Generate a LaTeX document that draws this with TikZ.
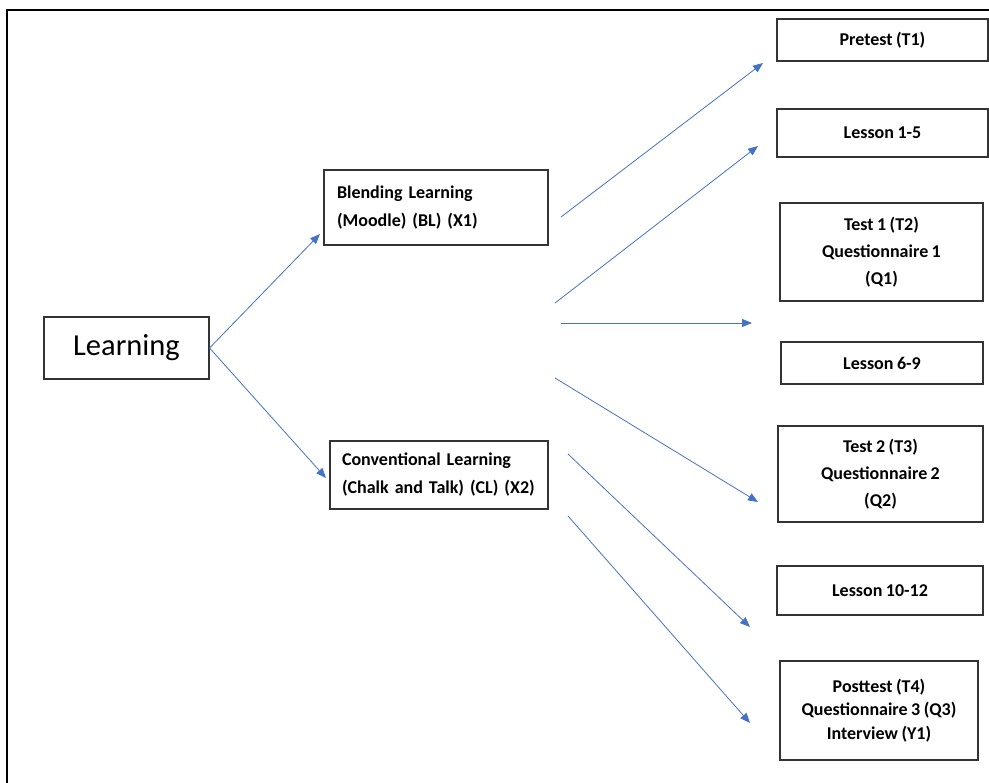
\documentclass[tikz,border=0pt]{standalone}
\usepackage{fontspec}
\setmainfont{Carlito}[WordSpace=0.85]
\usetikzlibrary{arrows.meta}
\definecolor{arrowblue}{HTML}{4472C4}
\begin{document}
\begin{tikzpicture}[x=1pt,y=-1pt,
        box/.style={draw=black!80,line width=1.1pt,inner sep=0pt,align=center,font=\bfseries\fontsize{18}{23.5}\selectfont},
        tallbox/.style={box,font=\bfseries\fontsize{18}{27}\selectfont},
        widebox/.style={box,align=left,font=\bfseries\fontsize{18}{28}\selectfont},
        link/.style={color=arrowblue,line width=0.8pt,-{Triangle[length=10pt,width=8pt]}}]
        \useasboundingbox (0,0) rectangle (989,783);
        \draw[line width=1.5pt] (7,783) -- (7,10) -- (989,10);

        \node[box, minimum width=165pt, minimum height=62pt, font=\fontsize{30.5}{32}\selectfont] at (126.5, 348) (learn) {Learning};
        \node[widebox, minimum height=75pt, inner xsep=13pt, text width=198pt] at (436, 207.5) (bl) {Blending Learning\\(Moodle) (BL) (X1)};
        \node[widebox, minimum height=68pt, inner xsep=12pt, text width=194pt] at (439, 475) (cl) {Conventional Learning\\(Chalk and Talk) (CL) (X2)};

        \node[box, minimum width=211pt, minimum height=42pt] at (882.5, 40) (pre) {Pretest (T1)};
        \node[box, minimum width=211pt, minimum height=48pt] at (882.5, 133) (lone) {Lesson 1-5};
        \node[tallbox, minimum width=203pt, minimum height=98pt] at (881.5, 252) (tone) {Test 1 (T2)\\Questionnaire 1\\(Q1)};
        \node[box, minimum width=202pt, minimum height=42pt] at (882, 363) (ltwo) {Lesson 6-9};
        \node[tallbox, minimum width=205pt, minimum height=96pt] at (880.5, 474) (ttwo) {Test 2 (T3)\\Questionnaire 2\\(Q2)};
        \node[box, minimum width=206pt, minimum height=49pt] at (880, 590.5) (lthree) {Lesson 10-12};
        \node[box, minimum width=198pt, minimum height=99pt] at (879, 710.5) (post) {Posttest (T4)\\Questionnaire 3 (Q3)\\Interview (Y1)};

        % free ends of the arrows
        \coordinate (lbl) at (320, 234);
        \coordinate (lcl) at (326, 478);
        \coordinate (sa) at (561, 217);
        \coordinate (sb) at (555, 303);
        \coordinate (sc) at (561, 323);
        \coordinate (sd) at (555, 378);
        \coordinate (se) at (568, 454);
        \coordinate (sf) at (568, 516);
        \coordinate (ea) at (763, 63);
        \coordinate (eb) at (758, 146);
        \coordinate (ec) at (752, 323);
        \coordinate (ed) at (758, 502);
        \coordinate (ee) at (750, 627);
        \coordinate (ef) at (750, 723);

        \path[every edge/.append style={link}]
            (learn.east) edge (lbl)
            (learn.east) edge (lcl)
            (sa) edge (ea)
            (sb) edge (eb)
            (sc) edge (ec)
            (sd) edge (ed)
            (se) edge (ee)
            (sf) edge (ef)
            ;
\end{tikzpicture}
\end{document}
